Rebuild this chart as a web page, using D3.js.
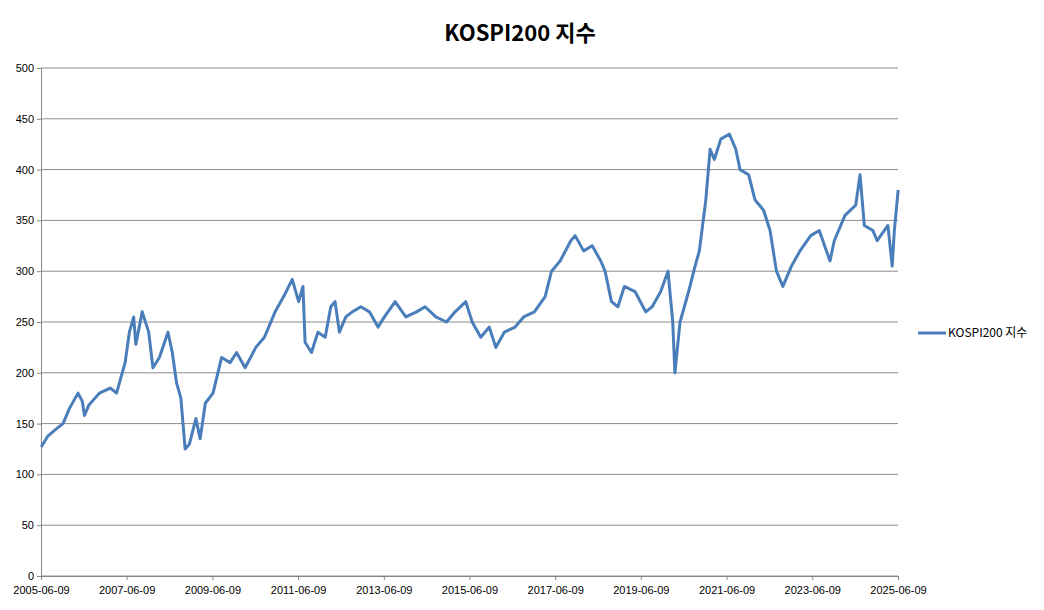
<!DOCTYPE html><html><head><meta charset="utf-8">
<script src="https://cdn.jsdelivr.net/npm/d3@7"></script>
<style>body{margin:0;background:#fff;font-family:Calibri,"Liberation Sans",Arial,sans-serif}</style></head><body>
<svg id="c" width="1044" height="610"></svg>
<script>
const years=[2005.44,2005.6,2005.8,2005.95,2006.1,2006.3,2006.4,2006.45,2006.55,2006.8,2007.05,2007.2,2007.4,2007.5,2007.6,2007.65,2007.8,2007.95,2008.05,2008.2,2008.4,2008.5,2008.6,2008.7,2008.8,2008.9,2009.05,2009.15,2009.27,2009.45,2009.65,2009.85,2010.0,2010.2,2010.45,2010.65,2010.9,2011.1,2011.3,2011.45,2011.55,2011.6,2011.75,2011.9,2012.07,2012.2,2012.3,2012.4,2012.55,2012.7,2012.9,2013.1,2013.3,2013.45,2013.7,2013.95,2014.2,2014.4,2014.65,2014.9,2015.1,2015.35,2015.5,2015.7,2015.9,2016.05,2016.25,2016.5,2016.7,2016.95,2017.2,2017.35,2017.55,2017.8,2017.9,2018.1,2018.3,2018.5,2018.6,2018.75,2018.9,2019.05,2019.3,2019.55,2019.7,2019.9,2020.07,2020.18,2020.23,2020.35,2020.55,2020.7,2020.8,2020.95,2021.05,2021.15,2021.3,2021.5,2021.65,2021.75,2021.95,2022.1,2022.3,2022.45,2022.6,2022.75,2022.95,2023.15,2023.4,2023.6,2023.85,2023.95,2024.2,2024.45,2024.55,2024.65,2024.85,2024.95,2025.2,2025.3,2025.35,2025.44];
const values=[127,138,145,150,165,180,172,158,168,180,185,180,210,240,255,228,260,240,205,215,240,220,190,175,125,130,155,135,170,180,215,210,220,205,225,235,260,275,292,270,285,230,220,240,235,265,270,240,255,260,265,260,245,255,270,255,260,265,255,250,260,270,250,235,245,225,240,245,255,260,275,300,310,330,335,320,325,310,300,270,265,285,280,260,265,280,300,250,200,250,280,305,320,370,420,410,430,435,420,400,395,370,360,340,300,285,305,320,335,340,310,330,355,365,395,345,340,330,345,305,340,380];
const yTicks=[0,50,100,150,200,250,300,350,400,450,500];
const xTickYears=[2005,2007,2009,2011,2013,2015,2017,2019,2021,2023,2025];
const title="KOSPI200 지수", seriesName="KOSPI200 지수";

const toDate=y=>{const yr=Math.floor(y);const s=new Date(yr,0,1),e=new Date(yr+1,0,1);return new Date(+s+(e-s)*(y-yr));};
const data=years.map((y,i)=>({d:toDate(y),v:values[i]}));
const svg=d3.select("#c");
const L=41,R=898,T=68,B=576;
const x=d3.scaleTime().domain([new Date(2005,5,9),new Date(2025,5,9)]).range([L,R]);
const y=d3.scaleLinear().domain([0,500]).range([B,T]);
svg.append("text").attr("x",520).attr("y",41).attr("text-anchor","middle").attr("font-size",22).attr("font-weight","bold").attr("font-family","'Noto Sans CJK KR',sans-serif").text(title);
svg.append("g").selectAll("line").data(yTicks).join("line").attr("x1",L).attr("x2",R).attr("y1",d=>y(d)).attr("y2",d=>y(d)).attr("stroke","#8c8c8c");
const ya=svg.append("g").attr("transform",`translate(${L},0)`).call(d3.axisLeft(y).tickValues(yTicks).tickSize(4).tickSizeOuter(0));
const xa=svg.append("g").attr("transform",`translate(0,${B})`).call(d3.axisBottom(x).tickValues(xTickYears.map(t=>new Date(t,5,9))).tickFormat(d3.timeFormat("%Y-%m-%d")).tickSize(4).tickSizeOuter(0));
[ya,xa].forEach(a=>{a.selectAll("text").attr("font-size",11).attr("fill","#000").attr("font-family","'Liberation Sans',Arial,sans-serif");a.selectAll("line,path").attr("stroke","#868686");});
ya.selectAll("text").attr("x",-7);
xa.selectAll("text").attr("y",10);
svg.append("path").datum(data).attr("fill","none").attr("stroke","#4a7ebb").attr("stroke-width",3).attr("stroke-linejoin","round").attr("d",d3.line().x(d=>x(d.d)).y(d=>y(d.v)));
svg.append("line").attr("x1",918).attr("x2",946).attr("y1",333).attr("y2",333).attr("stroke","#4a7ebb").attr("stroke-width",3);
svg.append("text").attr("x",948).attr("y",337).attr("font-size",12).attr("font-family","'Noto Sans CJK KR',sans-serif").text(seriesName);
</script></body></html>
